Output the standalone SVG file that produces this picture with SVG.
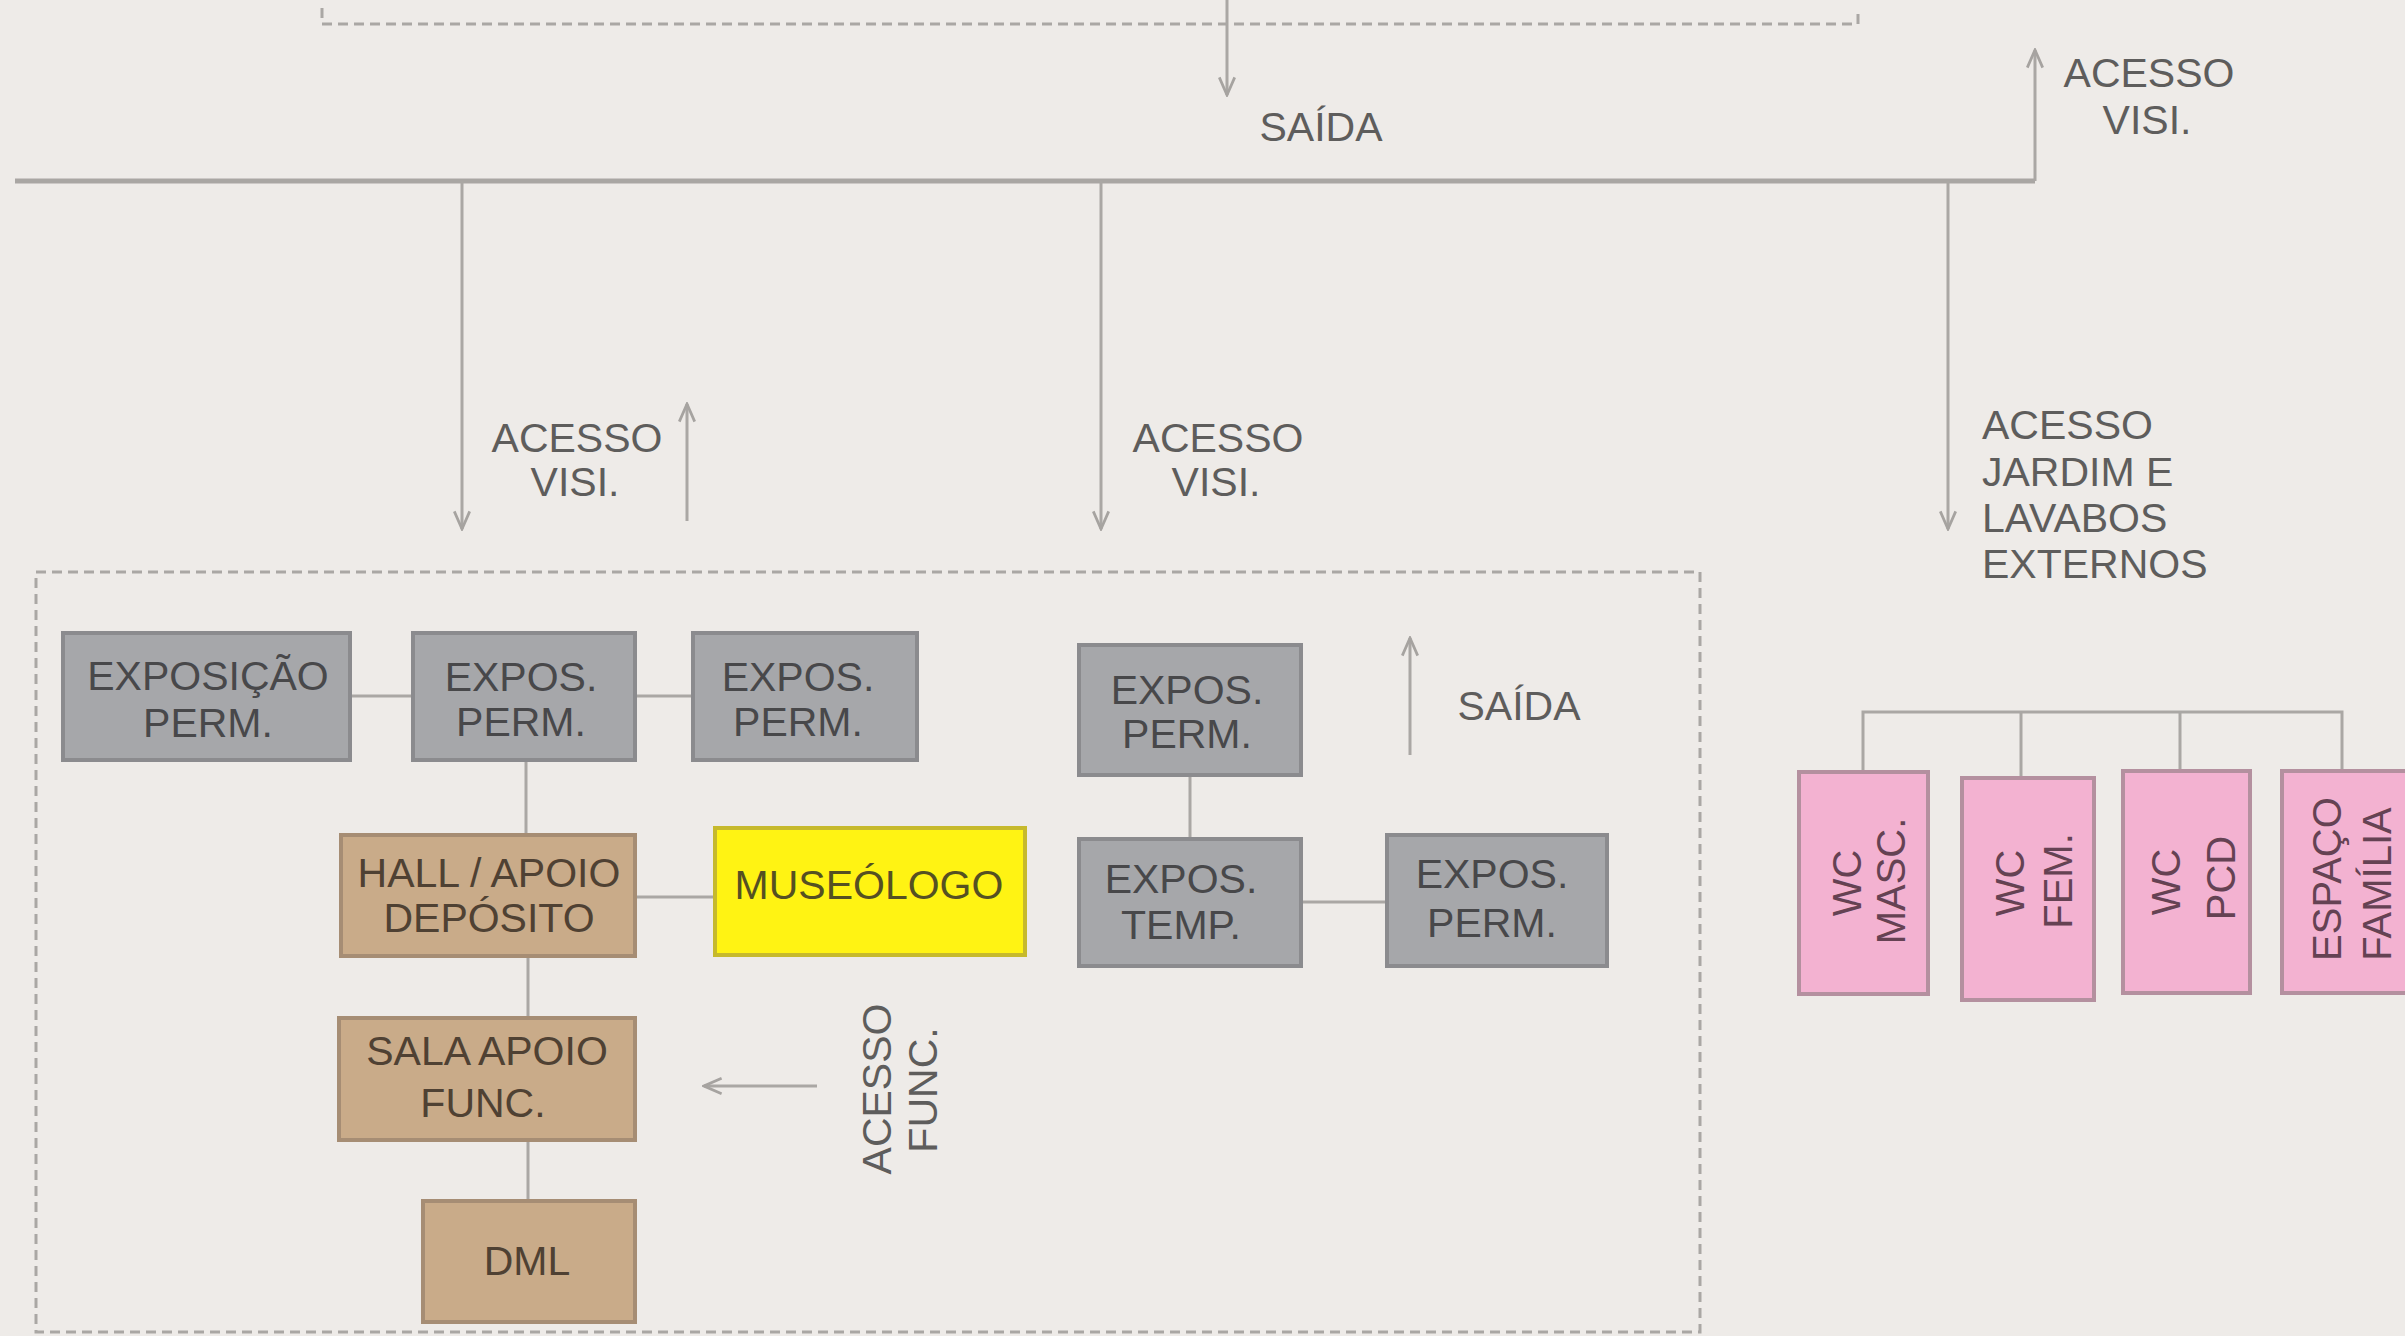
<svg xmlns="http://www.w3.org/2000/svg" width="2405" height="1336" viewBox="0 0 2405 1336">
<defs>
<style>
text{font-family:"Liberation Sans",Arial,sans-serif;font-size:41px;}
.lbl{fill:#5e5d5c;}
.gt{fill:#48484a;text-anchor:middle;}
.tt{fill:#4f4133;text-anchor:middle;}
.yt{fill:#555022;text-anchor:middle;}
.pt{fill:#654253;text-anchor:middle;font-size:40px;}
.gray{fill:#a6a7aa;stroke:#8b8b8e;stroke-width:4;}
.tan{fill:#c9ab89;stroke:#a68d74;stroke-width:4;}
.yel{fill:#fff313;stroke:#c6b92c;stroke-width:4;}
.pink{fill:#f3b2d1;stroke:#b4909f;stroke-width:4;}
.ln{fill:none;stroke:#aaa7a4;stroke-width:3;}
.main{fill:none;stroke:#a9a6a3;stroke-width:5;}
.dash{fill:none;stroke:#aaa7a4;stroke-width:3;stroke-dasharray:10 6;}
.arr{marker-end:url(#ah);}
</style>
<marker id="ah" viewBox="0 0 20 20" refX="18" refY="10" markerWidth="22" markerHeight="22" orient="auto" markerUnits="userSpaceOnUse">
<path d="M2,3 L18,10 L2,17" fill="none" stroke="#a6a3a0" stroke-width="2.5"/>
</marker>
</defs>
<rect x="0" y="0" width="2405" height="1336" fill="#eeebe8"/>

<g id="zones">
<path class="dash" d="M322,8 V24 H1858 V8"/>
<rect class="dash" x="36" y="572" width="1664" height="760"/>
</g>

<g id="connectors">
<line class="ln arr" x1="1227" y1="0" x2="1227" y2="95"/>
<path class="main" d="M15,181 H2035"/>
<line class="ln arr" x1="2035" y1="181" x2="2035" y2="50"/>
<line class="ln arr" x1="462" y1="181" x2="462" y2="529"/>
<line class="ln arr" x1="1101" y1="181" x2="1101" y2="529"/>
<line class="ln arr" x1="1948" y1="181" x2="1948" y2="529"/>
<line class="ln arr" x1="687" y1="521" x2="687" y2="404"/>
<line class="ln" x1="350" y1="696" x2="413" y2="696"/>
<line class="ln" x1="635" y1="696" x2="693" y2="696"/>
<line class="ln" x1="526" y1="760" x2="526" y2="835"/>
<line class="ln" x1="635" y1="897" x2="715" y2="897"/>
<line class="ln" x1="528" y1="956" x2="528" y2="1018"/>
<line class="ln" x1="528" y1="1140" x2="528" y2="1201"/>
<line class="ln arr" x1="817" y1="1086" x2="704" y2="1086"/>
<line class="ln" x1="1190" y1="775" x2="1190" y2="839"/>
<line class="ln" x1="1301" y1="902" x2="1387" y2="902"/>
<line class="ln arr" x1="1410" y1="755" x2="1410" y2="638"/>
<path class="ln" d="M1863,772 V712 H2342 V771 M2021,712 V778 M2180,712 V771"/>
</g>

<g id="labels">
<text class="lbl" x="1321" y="141" text-anchor="middle">SAÍDA</text>
<text class="lbl" x="2149" y="87" text-anchor="middle">ACESSO</text>
<text class="lbl" x="2147" y="134" text-anchor="middle">VISI.</text>
<text class="lbl" x="577" y="452" text-anchor="middle">ACESSO</text>
<text class="lbl" x="575" y="496" text-anchor="middle">VISI.</text>
<text class="lbl" x="1218" y="452" text-anchor="middle">ACESSO</text>
<text class="lbl" x="1216" y="496" text-anchor="middle">VISI.</text>
<text class="lbl" x="1982" y="439">ACESSO</text>
<text class="lbl" x="1982" y="486">JARDIM E</text>
<text class="lbl" x="1982" y="532">LAVABOS</text>
<text class="lbl" x="1982" y="578">EXTERNOS</text>
<text class="lbl" x="1519" y="720" text-anchor="middle">SAÍDA</text>
<text class="lbl" text-anchor="middle" transform="translate(891,1089) rotate(-90)">ACESSO</text>
<text class="lbl" text-anchor="middle" transform="translate(937,1090) rotate(-90)">FUNC.</text>
</g>

<g id="n-exposicao-perm">
<rect class="gray" x="63" y="633" width="287" height="127"/>
<text class="gt" x="208" y="690">EXPOSIÇÃO</text>
<text class="gt" x="208" y="737">PERM.</text>
</g>
<g id="n-expos-perm-2">
<rect class="gray" x="413" y="633" width="222" height="127"/>
<text class="gt" x="521" y="691">EXPOS.</text>
<text class="gt" x="521" y="736">PERM.</text>
</g>
<g id="n-expos-perm-3">
<rect class="gray" x="693" y="633" width="224" height="127"/>
<text class="gt" x="798" y="691">EXPOS.</text>
<text class="gt" x="798" y="736">PERM.</text>
</g>
<g id="n-hall">
<rect class="tan" x="341" y="835" width="294" height="121"/>
<text class="tt" x="489" y="887">HALL / APOIO</text>
<text class="tt" x="489" y="932">DEPÓSITO</text>
</g>
<g id="n-museologo">
<rect class="yel" x="715" y="828" width="310" height="127"/>
<text class="yt" x="869" y="899">MUSEÓLOGO</text>
</g>
<g id="n-sala-apoio">
<rect class="tan" x="339" y="1018" width="296" height="122"/>
<text class="tt" x="487" y="1065">SALA APOIO</text>
<text class="tt" x="483" y="1117">FUNC.</text>
</g>
<g id="n-dml">
<rect class="tan" x="423" y="1201" width="212" height="121"/>
<text class="tt" x="527" y="1275">DML</text>
</g>
<g id="n-expos-perm-4">
<rect class="gray" x="1079" y="645" width="222" height="130"/>
<text class="gt" x="1187" y="704">EXPOS.</text>
<text class="gt" x="1187" y="748">PERM.</text>
</g>
<g id="n-expos-temp">
<rect class="gray" x="1079" y="839" width="222" height="127"/>
<text class="gt" x="1181" y="893">EXPOS.</text>
<text class="gt" x="1181" y="939">TEMP.</text>
</g>
<g id="n-expos-perm-5">
<rect class="gray" x="1387" y="835" width="220" height="131"/>
<text class="gt" x="1492" y="888">EXPOS.</text>
<text class="gt" x="1492" y="937">PERM.</text>
</g>
<g id="n-wc-masc">
<rect class="pink" x="1799" y="772" width="129" height="222"/>
<text class="pt" transform="translate(1861,883) rotate(-90)">WC</text>
<text class="pt" transform="translate(1905,881) rotate(-90)">MASC.</text>
</g>
<g id="n-wc-fem">
<rect class="pink" x="1962" y="778" width="132" height="222"/>
<text class="pt" transform="translate(2024,883) rotate(-90)">WC</text>
<text class="pt" transform="translate(2072,881) rotate(-90)">FEM.</text>
</g>
<g id="n-wc-pcd">
<rect class="pink" x="2123" y="771" width="127" height="222"/>
<text class="pt" transform="translate(2180,882) rotate(-90)">WC</text>
<text class="pt" transform="translate(2235,878) rotate(-90)">PCD</text>
</g>
<g id="n-espaco-familia">
<rect class="pink" x="2282" y="771" width="132" height="222"/>
<text class="pt" transform="translate(2341,879) rotate(-90)">ESPAÇO</text>
<text class="pt" transform="translate(2391,884) rotate(-90)">FAMÍLIA</text>
</g>
</svg>
